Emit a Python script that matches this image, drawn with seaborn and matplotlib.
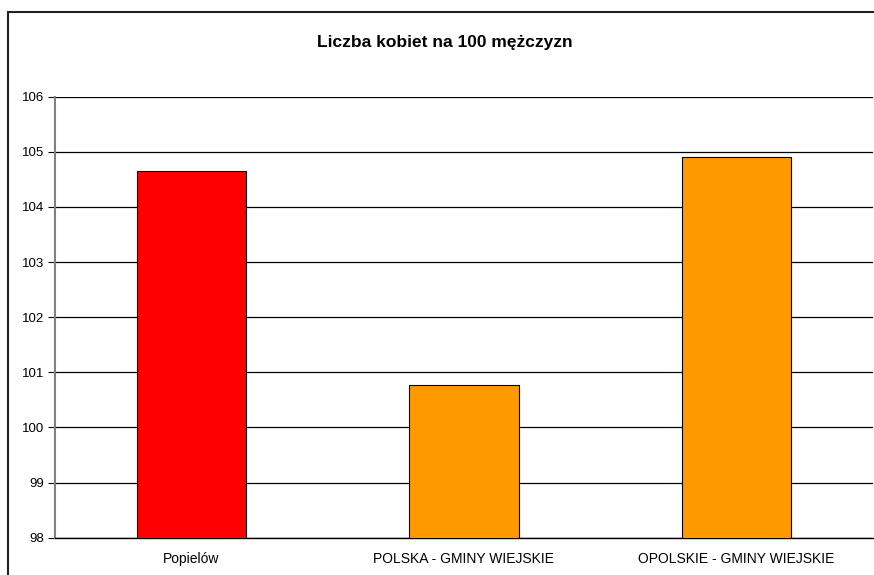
import seaborn as sns
import matplotlib.pyplot as plt
import pandas as pd
from matplotlib.patches import Rectangle

kategorie = ['Popielów', 'POLSKA - GMINY WIEJSKIE', 'OPOLSKIE - GMINY WIEJSKIE']
wartosci = [104.65, 100.77, 104.91]
kolory = ['#FF0000', '#FF9900', '#FF9900']

df = pd.DataFrame({'kategoria': kategorie, 'wartosc': wartosci})

sns.set_style('white')
plt.rcParams['font.family'] = ['Liberation Sans', 'DejaVu Sans']
plt.rcParams['text.color'] = 'black'
plt.rcParams['xtick.color'] = 'black'
plt.rcParams['ytick.color'] = 'black'

fig = plt.figure(figsize=(8.74, 5.75), dpi=100)
ax = fig.add_axes([55/874, 1-537.7/575, (873-55)/874, (537.7-96.7)/575])

sns.barplot(data=df, x='kategoria', y='wartosc', hue='kategoria',
            palette=dict(zip(kategorie, kolory)), width=0.4, saturation=1,
            edgecolor='black', linewidth=0.8, legend=False, ax=ax, zorder=3)

ax.set_ylim(98, 106)
ax.set_xlim(-0.5, 2.5)
ax.set_yticks(range(98, 107))
ax.yaxis.grid(True, color='black', linewidth=0.9, zorder=0)
ax.set_axisbelow(True)

# podziałki między kategoriami
ax.set_xticks([0.5, 1.5, 2.5], minor=True)
ax.tick_params(axis='x', which='major', length=0, labelsize=10, pad=10, labelcolor='black')
ax.tick_params(axis='x', which='minor', length=4, color='#808080', direction='out')
ax.tick_params(axis='y', length=5, color='black', direction='out', labelsize=9.5,
               left=True, labelcolor='black', pad=3)

ax.set_xlabel('')
ax.set_ylabel('')
for s in ['top', 'right']:
    ax.spines[s].set_visible(False)
ax.spines['left'].set_color('#808080')
ax.spines['left'].set_linewidth(1.5)
ax.spines['bottom'].set_color('black')
ax.spines['bottom'].set_linewidth(1.0)

fig.text(445/874, 1-42/575, 'Liczba kobiet na 100 mężczyzn', ha='center', va='center',
         fontsize=12.5, fontweight='bold', color='black')

# ramka wykresu
fig.patches.append(Rectangle((7.5/874, -0.2), 1.2, 1.2-12/575, transform=fig.transFigure,
                             fill=False, edgecolor='#222222', linewidth=1.5))

plt.savefig('out.png', dpi=100)
